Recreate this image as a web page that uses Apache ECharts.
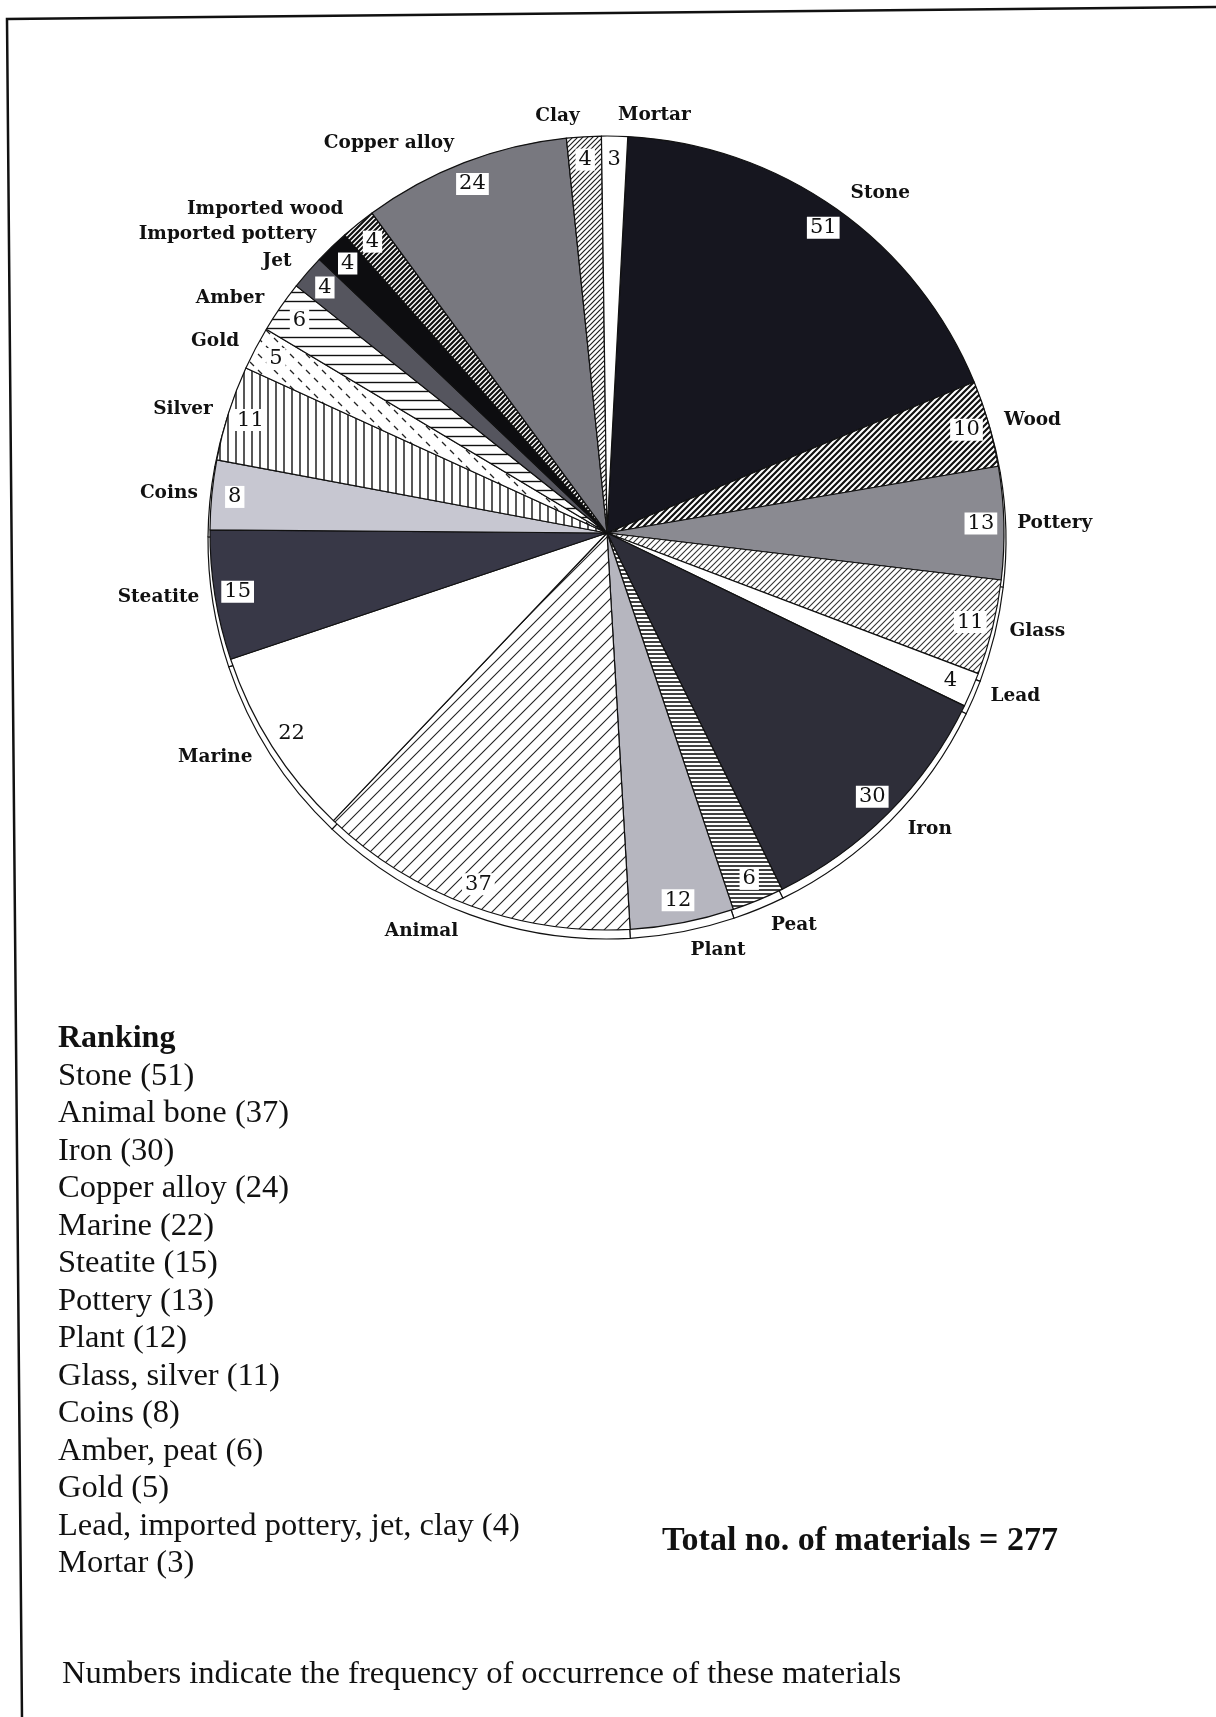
<!DOCTYPE html>
<html>
<head>
<meta charset="utf-8">
<script src="https://cdn.jsdelivr.net/npm/echarts@6/dist/echarts.min.js"></script>
<style>
html, body { margin: 0; padding: 0; background: #fff; }
#chart { width: 1216px; height: 1717px; }
</style>
</head>
<body>
<div id="chart"></div>
<script>
// data (clockwise from 12 o'clock)
var materials = ['Stone', 'Wood', 'Pottery', 'Glass', 'Lead', 'Iron', 'Peat', 'Plant', 'Animal', 'Marine',
    'Steatite', 'Coins', 'Silver', 'Gold', 'Amber', 'Jet', 'Imported pottery', 'Imported wood',
    'Copper alloy', 'Clay', 'Mortar'];
var counts = [51, 10, 13, 11, 4, 30, 6, 12, 37, 22, 15, 8, 11, 5, 6, 4, 4, 4, 24, 4, 3];

var rankingTitle = 'Ranking';
var rankingLines = ['Stone (51)', 'Animal bone (37)', 'Iron (30)', 'Copper alloy (24)', 'Marine (22)',
    'Steatite (15)', 'Pottery (13)', 'Plant (12)', 'Glass, silver (11)', 'Coins (8)', 'Amber, peat (6)',
    'Gold (5)', 'Lead, imported pottery, jet, clay (4)', 'Mortar (3)'];
var totalText = 'Total no. of materials = 277';
var footnote = 'Numbers indicate the frequency of occurrence of these materials';

// fill of each slice, same order as materials
var fills = ['stone', 'wood', 'pottery', 'glass', 'white', 'iron', 'peat', 'plant', 'animal', 'white',
    'steatite', 'coins', 'silver', 'gold', 'amber', 'jet', 'black', 'impwood', 'copper', 'clay', 'white'];

// 1、hatch patterns drawn on small canvases
function hatch(kind, size, bg, fg, lw) {
    var c = document.createElement('canvas');
    c.width = size;
    c.height = size;
    var g = c.getContext('2d');
    g.fillStyle = bg;
    g.fillRect(0, 0, size, size);
    g.strokeStyle = fg;
    g.lineWidth = lw;
    g.beginPath();
    if (kind === 'diag') {
        g.moveTo(-1, size + 1); g.lineTo(size + 1, -1);
        g.moveTo(-2, 2); g.lineTo(2, -2);
        g.moveTo(size - 2, size + 2); g.lineTo(size + 2, size - 2);
    } else if (kind === 'horiz') {
        g.moveTo(0, size / 2); g.lineTo(size, size / 2);
    } else if (kind === 'vert') {
        g.moveTo(size / 2, 0); g.lineTo(size / 2, size);
    } else if (kind === 'dash') {
        g.moveTo(2, 2); g.lineTo(6, 6);
        g.moveTo(10, 10); g.lineTo(14, 14);
    }
    g.stroke();
    return { image: c, repeat: 'repeat' };
}

var palette = {
    stone: '#16161f',
    wood: hatch('diag', 6, '#ffffff', '#111111', 2.2),
    pottery: '#8a8a91',
    glass: hatch('diag', 6, '#ffffff', '#333333', 1.1),
    white: '#ffffff',
    iron: '#2e2e39',
    peat: hatch('horiz', 4, '#ffffff', '#111111', 1.6),
    plant: '#b6b6bf',
    animal: hatch('diag', 13, '#ffffff', '#222222', 1.1),
    steatite: '#383847',
    coins: '#c7c7d1',
    silver: hatch('vert', 8, '#ffffff', '#111111', 1.4),
    gold: hatch('dash', 16, '#ffffff', '#222222', 1.3),
    amber: hatch('horiz', 9, '#ffffff', '#111111', 1.4),
    jet: '#55555e',
    black: '#0d0d10',
    impwood: hatch('diag', 5, '#ffffff', '#111111', 2.2),
    copper: '#78787f',
    clay: hatch('diag', 5, '#ffffff', '#222222', 1.2)
};

var cx = 607, cy = 533, r = 397;
var start = 87;   // slight clockwise turn, as in the scan
var rimDrop = 7;
var serif = '"DejaVu Serif", "Liberation Serif", serif';
var times = '"Liberation Serif", "Times New Roman", serif';

// name labels hug the rim: short gap at the sides, a bit more above/below
var total = counts.reduce(function (a, b) { return a + b; }, 0);
var acc = 0;
var labelGap = counts.map(function (v) {
    var mid = ((90 - start) + (acc + v / 2) / total * 360) * Math.PI / 180;
    acc += v;
    var c = Math.cos(mid);
    return 10 + 11 * Math.abs(c) + (c < 0 ? -c * rimDrop : 0);
});

var pieData = materials.map(function (name, i) {
    return {
        name: name, value: counts[i],
        itemStyle: { color: palette[fills[i]] },
        labelLine: { length: labelGap[i] }
    };
});
var plainData = materials.map(function (name, i) {
    return { name: name, value: counts[i] };
});

var chart = echarts.init(document.getElementById('chart'));

var graphics = [{
    type: 'polyline',
    shape: { points: [[1216, 7], [7, 19], [22, 1717]] },
    style: { stroke: '#111', lineWidth: 2.5, fill: null },
    silent: true
}, {
    type: 'text', x: 58, y: 1039,
    style: { text: rankingTitle, font: 'bold 32px ' + times, fill: '#111', verticalAlign: 'middle' }
}];
rankingLines.forEach(function (t, i) {
    graphics.push({
        type: 'text', x: 58, y: 1076 + i * 37.5,
        style: { text: t, font: '32.5px ' + times, fill: '#111', verticalAlign: 'middle' }
    });
});
graphics.push({
    type: 'text', x: 662, y: 1541,
    style: { text: totalText, font: 'bold 34px ' + times, fill: '#111', verticalAlign: 'middle' }
});
graphics.push({
    type: 'text', x: 62, y: 1674,
    style: { text: footnote, font: '32.5px ' + times, fill: '#111', verticalAlign: 'middle' }
});

var option = {
    backgroundColor: '#fff',
    animation: false,
    graphic: graphics,
    series: [{
        // lower rim of the tilted disc
        type: 'pie',
        z: 1,
        silent: true,
        startAngle: start,
        center: [cx, cy + rimDrop],
        radius: r + 2,
        data: plainData,
        itemStyle: { color: '#fff', borderColor: '#111', borderWidth: 1.2 },
        label: { show: false },
        labelLine: { show: false }
    }, {
        name: 'Materials',
        type: 'pie',
        z: 2,
        startAngle: start,
        center: [cx, cy],
        radius: r,
        data: pieData,
        itemStyle: { borderColor: '#111', borderWidth: 1.2 },
        avoidLabelOverlap: true,
        label: {
            position: 'outside',
            formatter: '{b}',
            fontFamily: serif,
            fontWeight: 'bold',
            fontSize: 18.5,
            color: '#111',
            distanceToLabelLine: 3
        },
        labelLine: { show: false, length: 14, length2: 0 },
        emphasis: { disabled: true }
    }, {
        // value boxes near the rim
        type: 'pie',
        z: 3,
        silent: true,
        startAngle: start,
        center: [cx, cy],
        radius: [345, r],
        data: plainData,
        itemStyle: { color: 'rgba(0,0,0,0)', borderWidth: 0 },
        label: {
            position: 'inside',
            formatter: '{c}',
            fontFamily: serif,
            fontSize: 21,
            color: '#111',
            backgroundColor: '#fff',
            padding: [1, 3, 0, 3]
        },
        labelLine: { show: false },
        emphasis: { disabled: true }
    }]
};

chart.setOption(option);
</script>
</body>
</html>
